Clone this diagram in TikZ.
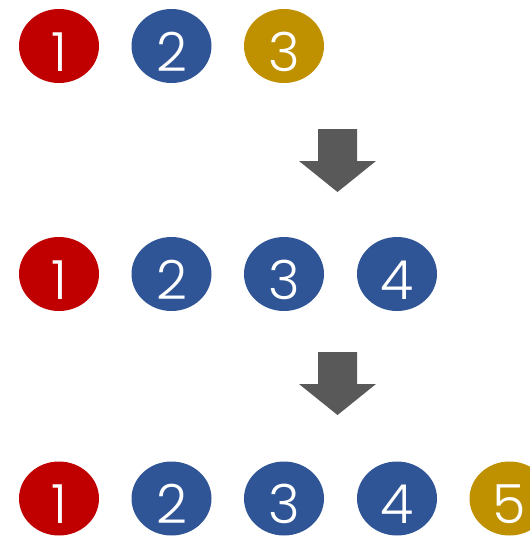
\documentclass[tikz,border=0pt]{standalone}
\usepackage{fontspec}
\setsansfont{Poppins Light}
\usetikzlibrary{shapes.geometric}

\definecolor{ballred}{HTML}{C00000}
\definecolor{ballblue}{HTML}{2F5597}
\definecolor{ballgold}{HTML}{BF9000}
\definecolor{arrowgray}{HTML}{595959}

\tikzset{
  ball/.style={ellipse, fill=#1, text=white, minimum width=80pt, minimum height=74pt,
    inner sep=0pt, text height=50pt, text depth=0pt,
    font=\sffamily\fontsize{54}{54}\selectfont},
}

\newcommand{\downblock}[2]{%
  \fill[arrowgray] (#1-19.5,#2) -- (#1+19.5,#2) -- (#1+19.5,#2+32) -- (#1+38.5,#2+32)
    -- (#1,#2+63) -- (#1-38.5,#2+32) -- (#1-19.5,#2+32) -- cycle;}

\begin{document}
\begin{tikzpicture}[x=1pt, y=-1pt]
    \useasboundingbox (0,0) rectangle (530,557);
    \clip (0,0) rectangle (530,557);

    % Reihe 1
    \node[ball=ballred]  (r1a) at (59,46)    {1};
    \node[ball=ballblue] (r1b) at (171.5,46) {2};
    \node[ball=ballgold] (r1c) at (284,46)   {3};

    % Pfeil
    \downblock{337.5}{129}

    % Reihe 2
    \node[ball=ballred]  (r2a) at (59,274)    {1};
    \node[ball=ballblue] (r2b) at (171.5,274) {2};
    \node[ball=ballblue] (r2c) at (284,274)   {3};
    \node[ball=ballblue] (r2d) at (397,274)   {4};

    % Pfeil
    \downblock{337.5}{352}

    % Reihe 3
    \node[ball=ballred]  (r3a) at (59,498.5)    {1};
    \node[ball=ballblue] (r3b) at (171.5,498.5) {2};
    \node[ball=ballblue] (r3c) at (284,498.5)   {3};
    \node[ball=ballblue] (r3d) at (397,498.5)   {4};
    \node[ball=ballgold] (r3e) at (509.5,498.5) {5};
\end{tikzpicture}
\end{document}
